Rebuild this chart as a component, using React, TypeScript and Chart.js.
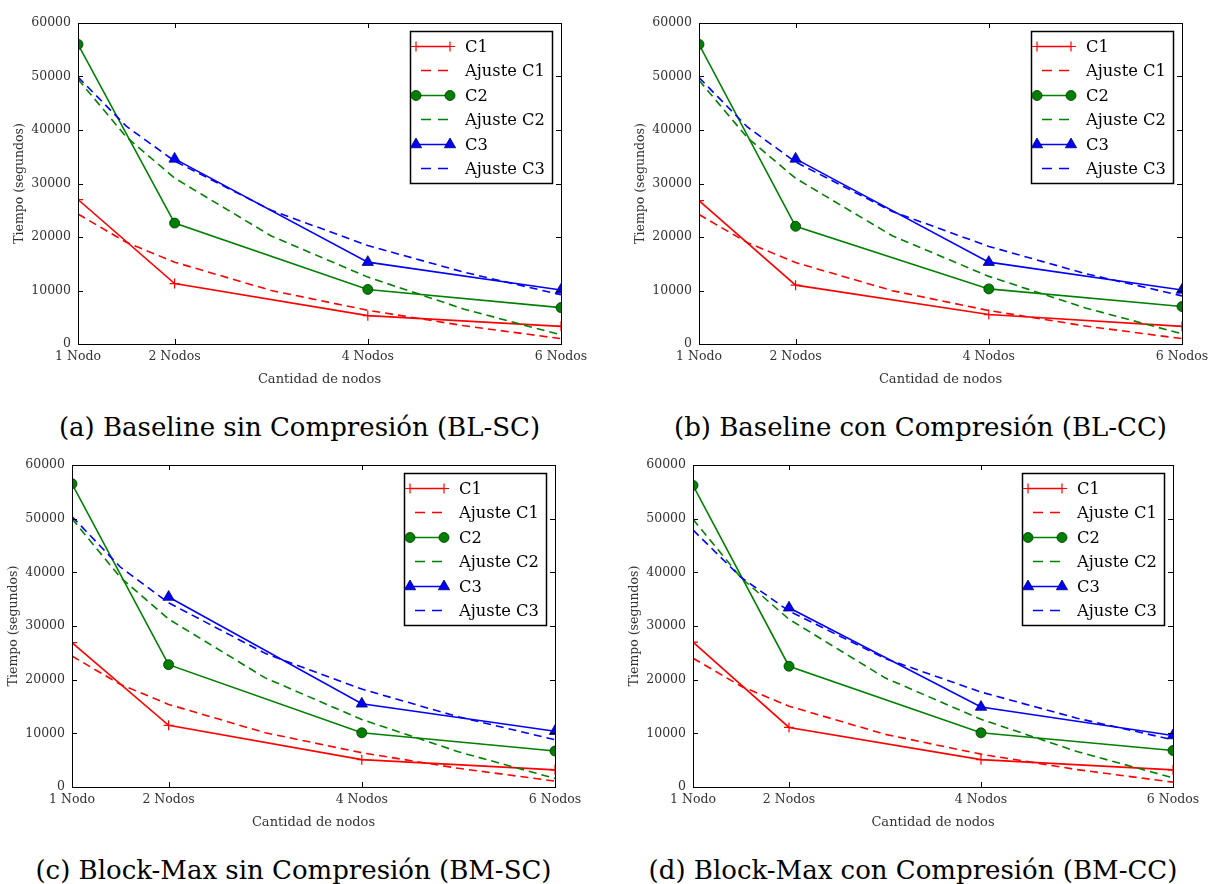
import React, { useEffect, useRef } from "react";
import { Chart, registerables } from "chart.js";
import { drawPoint } from "chart.js/helpers";

Chart.register(...registerables);

const SERIF = '"DejaVu Serif", "Liberation Serif", serif';

// Node counts on the x axis and their tick labels
const nodeCounts = [1, 2, 4, 6];
const nodeLabels = ["1 Nodo", "2 Nodos", "4 Nodos", "6 Nodos"];
// Node counts at which the fitted curves are sampled
const fitNodeCounts = [1, 1.5, 2, 3, 4, 5, 6];
// Time ticks (seconds)
const timeTicks = [0, 10000, 20000, 30000, 40000, 50000, 60000];

const seriesLabels = ["C1", "Ajuste C1", "C2", "Ajuste C2", "C3", "Ajuste C3"];

// (a) Baseline sin Compresión
const blscC1 = [27000, 11300, 5300, 3300];
const blscC2 = [56000, 22600, 10200, 6800];
const blscC3 = [null, 34600, 15300, 10100];
const blscFitC1 = [24300, 19000, 15300, 10000, 6300, 3400, 1000];
const blscFitC2 = [49500, 38700, 31000, 20200, 12500, 6500, 1700];
const blscFitC3 = [49900, 40700, 34200, 25000, 18400, 13400, 9200];

// (b) Baseline con Compresión
const blccC1 = [26800, 11000, 5500, 3300];
const blccC2 = [56000, 22000, 10300, 7000];
const blccC3 = [null, 34600, 15300, 10100];
const blccFitC1 = [24200, 18950, 15220, 9970, 6250, 3360, 1000];
const blccFitC2 = [49300, 38580, 30970, 20230, 12640, 6740, 1900];
const blccFitC3 = [49800, 40570, 34020, 24780, 18240, 13160, 9000];

// (c) Block-Max sin Compresión
const bmscC1 = [26900, 11500, 5100, 3200];
const bmscC2 = [56500, 22800, 10100, 6700];
const bmscC3 = [null, 35400, 15500, 10400];
const bmscFitC1 = [24400, 19130, 15390, 10110, 6380, 3480, 1100];
const bmscFitC2 = [50000, 39060, 31290, 20330, 12580, 6560, 1600];
const bmscFitC3 = [50400, 40990, 34320, 24900, 18240, 13070, 8800];

// (d) Block-Max con Compresión
const bmccC1 = [27000, 11100, 5100, 3200];
const bmccC2 = [56200, 22500, 10100, 6800];
const bmccC3 = [null, 33400, 14900, 9600];
const bmccFitC1 = [24000, 18780, 15060, 9820, 6120, 3240, 900];
const bmccFitC2 = [49900, 38990, 31260, 20340, 12620, 6610, 1700];
const bmccFitC3 = [47900, 39070, 32790, 23940, 17690, 12820, 8800];

const captions = [
  "(a) Baseline sin Compresión (BL-SC)",
  "(b) Baseline con Compresión (BL-CC)",
  "(c) Block-Max sin Compresión (BM-SC)",
  "(d) Block-Max con Compresión (BM-CC)",
];

const RED = "#ff0000";
const GREEN = "#008000";
const BLUE = "#0000ff";

// Space reserved around the plotting area inside each canvas
const Y_AXIS_W = 78;
const X_AXIS_H = 56;
const PAD_TOP = 23;
const PAD_RIGHT = 40;

type Frame = { left: number; top: number; w: number; h: number };

const panels = [
  { frame: { left: 78, top: 23, w: 483, h: 321 }, caption: captions[0], measured: [blscC1, blscC2, blscC3], fits: [blscFitC1, blscFitC2, blscFitC3] },
  { frame: { left: 699, top: 23, w: 483, h: 321 }, caption: captions[1], measured: [blccC1, blccC2, blccC3], fits: [blccFitC1, blccFitC2, blccFitC3] },
  { frame: { left: 72, top: 465, w: 483, h: 322 }, caption: captions[2], measured: [bmscC1, bmscC2, bmscC3], fits: [bmscFitC1, bmscFitC2, bmscFitC3] },
  { frame: { left: 693, top: 465, w: 480, h: 322 }, caption: captions[3], measured: [bmccC1, bmccC2, bmccC3], fits: [bmccFitC1, bmccFitC2, bmccFitC3] },
];

function toPoints(xs: number[], ys: (number | null)[]) {
  return xs
    .map((x, i) => ({ x, y: ys[i] }))
    .filter((p) => p.y !== null && p.y !== undefined);
}

// Axes box with inward tick marks on all four sides
const axesFrame = {
  id: "axesFrame",
  afterDatasetsDraw(chart: any) {
    const { ctx, chartArea, scales } = chart;
    const { left, right, top, bottom } = chartArea;
    const tl = 5;
    ctx.save();
    ctx.strokeStyle = "#000";
    ctx.lineWidth = 1;
    ctx.setLineDash([]);
    ctx.beginPath();
    for (const t of scales.y.ticks) {
      const py = Math.round(scales.y.getPixelForValue(t.value)) + 0.5;
      ctx.moveTo(left, py);
      ctx.lineTo(left + tl, py);
      ctx.moveTo(right, py);
      ctx.lineTo(right - tl, py);
    }
    for (const t of scales.x.ticks) {
      const px = Math.round(scales.x.getPixelForValue(t.value)) + 0.5;
      ctx.moveTo(px, bottom);
      ctx.lineTo(px, bottom - tl);
      ctx.moveTo(px, top);
      ctx.lineTo(px, top + tl);
    }
    ctx.stroke();
    ctx.strokeRect(Math.round(left) + 0.5, Math.round(top) + 0.5, Math.round(right - left), Math.round(bottom - top));
    ctx.restore();
  },
};

// Framed legend in the upper right corner of the plotting area
const boxLegend = {
  id: "boxLegend",
  afterDraw(chart: any) {
    const { ctx, chartArea } = chart;
    const sets = chart.data.datasets;
    ctx.save();
    ctx.font = `16.3px ${SERIF}`;
    const textW = Math.max(...sets.map((d: any) => ctx.measureText(d.label).width));
    const rowH = 24.4;
    const padTop = 15;
    const textX = 55;
    const w = Math.round(textX + textW + 7);
    const h = Math.round(padTop * 2 + rowH * (sets.length - 1));
    const x = Math.round(chartArea.right - 9 - w);
    const y = Math.round(chartArea.top + 8);
    ctx.fillStyle = "#fff";
    ctx.fillRect(x, y, w, h);
    ctx.lineWidth = 1.5;
    ctx.strokeStyle = "#000";
    ctx.strokeRect(x + 0.5, y + 0.5, w, h);
    sets.forEach((d: any, i: number) => {
      const cy = Math.round(y + padTop + i * rowH) + 0.5;
      const x1 = x + 6;
      const x2 = x + 40;
      ctx.save();
      ctx.beginPath();
      if (d.borderDash && d.borderDash.length) {
        ctx.setLineDash([10, 7]);
        ctx.lineDashOffset = 12;
      } else {
        ctx.setLineDash([]);
      }
      ctx.strokeStyle = d.borderColor;
      ctx.lineWidth = d.borderWidth;
      ctx.moveTo(x1, cy);
      ctx.lineTo(x2, cy);
      ctx.stroke();
      ctx.restore();
      if (d.pointRadius > 0) {
        for (const px of [x1, x2]) {
          ctx.save();
          ctx.fillStyle = d.pointBackgroundColor;
          ctx.strokeStyle = d.pointBorderColor;
          ctx.lineWidth = d.pointBorderWidth;
          drawPoint(ctx, { pointStyle: d.pointStyle, radius: d.pointRadius, rotation: 0, borderWidth: d.pointBorderWidth } as any, px, cy);
          ctx.restore();
        }
      }
      ctx.fillStyle = "#000";
      ctx.textAlign = "left";
      ctx.textBaseline = "middle";
      ctx.fillText(d.label, x + textX, cy + 1);
    });
    ctx.restore();
  },
};

function Panel({ frame, caption, measured, fits }: { frame: Frame; caption: string; measured: (number | null)[][]; fits: number[][] }) {
  const ref = useRef<HTMLCanvasElement>(null);
  const cw = Y_AXIS_W + frame.w + PAD_RIGHT;
  const ch = PAD_TOP + frame.h + X_AXIS_H;

  useEffect(() => {
    const canvas = ref.current!;
    const colors = [RED, GREEN, BLUE];
    const markers = [
      { pointStyle: "cross", pointRadius: 5, pointBorderWidth: 1.2, pointBorderColor: RED, pointBackgroundColor: RED },
      { pointStyle: "circle", pointRadius: 5, pointBorderWidth: 0.8, pointBorderColor: "#003300", pointBackgroundColor: GREEN },
      { pointStyle: "triangle", pointRadius: 6.5, pointBorderWidth: 0.8, pointBorderColor: "#000066", pointBackgroundColor: BLUE },
    ];
    const datasets: any[] = [];
    for (let k = 0; k < 3; k++) {
      datasets.push({
        label: seriesLabels[k * 2],
        data: toPoints(nodeCounts, measured[k]),
        borderColor: colors[k],
        borderWidth: 1.6,
        tension: 0,
        fill: false,
        clip: 0,
        ...markers[k],
      });
      datasets.push({
        label: seriesLabels[k * 2 + 1],
        data: toPoints(fitNodeCounts, fits[k]),
        borderColor: colors[k],
        borderWidth: 1.6,
        borderDash: [8, 5],
        pointRadius: 0,
        tension: 0,
        fill: false,
        clip: 0,
      });
    }
    datasets.forEach((d, i) => (d.order = -i));

    const tickFont = { family: SERIF, size: 12.5 };
    const chart = new Chart(canvas, {
      type: "line",
      data: { datasets },
      options: {
        responsive: false,
        animation: false,
        events: [],
        layout: { padding: { top: PAD_TOP, right: PAD_RIGHT, left: 0, bottom: 0 } },
        plugins: { legend: { display: false }, tooltip: { enabled: false } },
        scales: {
          x: {
            type: "linear",
            min: 1,
            max: 6,
            afterBuildTicks: (s: any) => {
              s.ticks = nodeCounts.map((v) => ({ value: v }));
            },
            afterFit: (s: any) => {
              s.height = X_AXIS_H;
            },
            grid: { display: false, drawTicks: false },
            border: { display: false },
            ticks: {
              autoSkip: false,
              maxRotation: 0,
              padding: 5,
              font: tickFont,
              color: "#333",
              callback: (v: any) => nodeLabels[nodeCounts.indexOf(Number(v))] ?? "",
            },
            title: {
              display: true,
              text: "Cantidad de nodos",
              font: { family: SERIF, size: 13 },
              color: "#333",
              padding: { top: 0, bottom: 13 },
            },
          },
          y: {
            type: "linear",
            min: 0,
            max: 60000,
            afterBuildTicks: (s: any) => {
              s.ticks = timeTicks.map((v) => ({ value: v }));
            },
            afterFit: (s: any) => {
              s.width = Y_AXIS_W;
            },
            grid: { display: false, drawTicks: false },
            border: { display: false },
            ticks: {
              padding: 7,
              font: tickFont,
              color: "#333",
              callback: (v: any) => String(v),
            },
            title: {
              display: true,
              text: "Tiempo (segundos)",
              font: { family: SERIF, size: 12.5 },
              color: "#333",
              padding: { top: 12, bottom: 0 },
            },
          },
        },
      },
      plugins: [axesFrame, boxLegend],
    } as any);
    return () => chart.destroy();
  }, []);

  const plotCenter = frame.left + frame.w / 2;
  return (
    <>
      <canvas
        ref={ref}
        width={cw}
        height={ch}
        style={{ position: "absolute", left: frame.left - Y_AXIS_W, top: frame.top - PAD_TOP, width: cw, height: ch }}
      />
      <div
        style={{
          position: "absolute",
          left: plotCenter - 20 - 300,
          width: 600,
          top: frame.top + frame.h + 68,
          textAlign: "center",
          fontFamily: SERIF,
          fontSize: 26,
          lineHeight: "30px",
          color: "#000",
          whiteSpace: "nowrap",
        }}
      >
        {caption}
      </div>
    </>
  );
}

export default function App() {
  return (
    <div
      style={{
        position: "absolute",
        left: 0,
        top: 0,
        width: 1208,
        height: 884,
        overflow: "hidden",
        background: "#fff",
      }}
    >
      {panels.map((p, i) => (
        <Panel key={i} frame={p.frame} caption={p.caption} measured={p.measured} fits={p.fits} />
      ))}
    </div>
  );
}
